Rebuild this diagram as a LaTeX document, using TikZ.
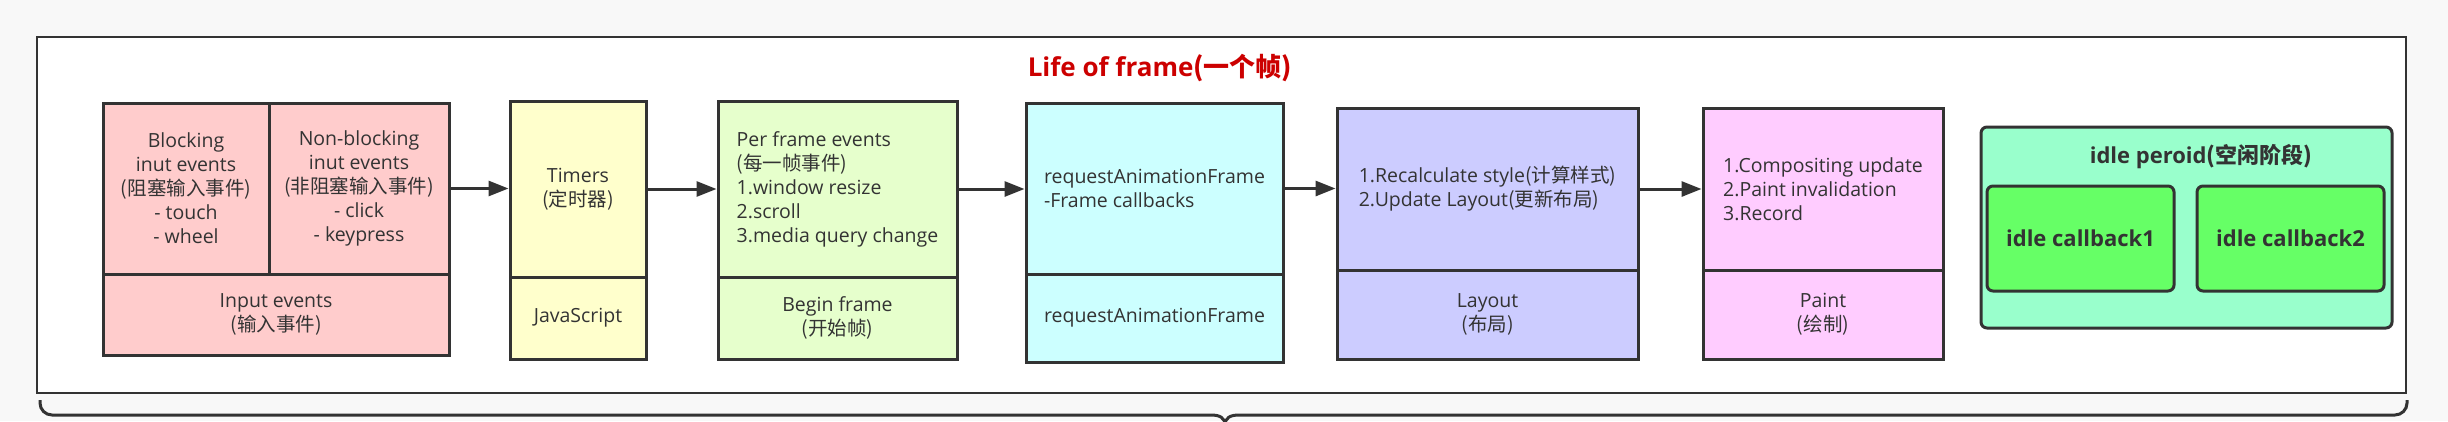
\documentclass[tikz,border=0pt]{standalone}
\usepackage{fontspec}
\setmainfont{Open Sans}
\newfontfamily\cjk{Noto Sans CJK SC}
\usetikzlibrary{arrows.meta}
\definecolor{bd}{HTML}{333333}
\definecolor{txt}{HTML}{333333}
\definecolor{bgc}{HTML}{F8F8F8}
\definecolor{titc}{HTML}{CC0000}
\definecolor{pinkc}{HTML}{FFCCCC}
\definecolor{yelc}{HTML}{FFFFCC}
\definecolor{grnc}{HTML}{E6FFCC}
\definecolor{cyac}{HTML}{CCFFFF}
\definecolor{bluc}{HTML}{CCCCFF}
\definecolor{magc}{HTML}{FFCCFF}
\definecolor{idlec}{HTML}{99FFCC}
\definecolor{cbc}{HTML}{66FF66}
\begin{document}
\begin{tikzpicture}[x=1pt,y=-1pt,
  cell/.style={draw=bd, line width=3pt, inner sep=0pt, text=txt,
    font=\fontsize{19.5}{24}\selectfont, align=center},
  leftcell/.style={cell, align=left},
  bigtitle/.style={inner sep=0pt, text=titc, font=\fontsize{26}{30}\selectfont\bfseries},
  idletitle/.style={inner sep=0pt, text=txt, font=\fontsize{22}{26}\selectfont\bfseries},
  cbbox/.style={draw=bd, line width=3pt, rounded corners=6pt, fill=cbc, inner sep=0pt,
    text=txt, font=\fontsize{22}{26}\selectfont\bfseries, minimum width=187pt, minimum height=105pt},
  arr/.style={draw=bd, line width=3pt, -{Triangle[length=20pt,width=15pt]}},
  bracepath/.style={draw=bd, line width=3pt}]
\useasboundingbox (0,0) rectangle (2448,421);
\fill[bgc] (0,0) rectangle (2448,421);
% outer frame
\node[draw=bd, line width=2.5pt, fill=white, inner sep=0pt, minimum width=2369pt, minimum height=356pt] (frame) at (1221.5,215) {};
% brace
\begin{scope}
\clip (0,0) rectangle (2448,421);
\draw[bracepath] (40,400) -- (40,403) .. controls (40,409.6) and (45.4,415) .. (52,415) -- (1211,415) .. controls (1220,415) and (1225,418) .. (1225,425);
\draw[bracepath] (2407,400) -- (2407,403) .. controls (2407,409.6) and (2401.6,415) .. (2395,415) -- (1239,415) .. controls (1230,415) and (1225,418) .. (1225,425);
\end{scope}
% title
\node[bigtitle] (title) at (1160,68) {Life of frame{\cjk\bfseries (一个帧)}};
% input events
\node[cell, fill=pinkc, minimum width=166pt, minimum height=171pt] (blk) at (186,188.5) {Blocking\\inut events\\{\cjk (阻塞输入事件)}\\- touch\\- wheel};
\node[cell, fill=pinkc, minimum width=180pt, minimum height=171pt] (nblk) at (359,188.5) {Non-blocking\\inut events\\{\cjk (非阻塞输入事件)}\\- click\\- keypress};
\node[cell, fill=pinkc, minimum width=346pt, minimum height=81pt] (inp) at (276,314.5) {Input events\\{\cjk (输入事件)}};
% timers
\node[cell, fill=yelc, minimum width=136pt, minimum height=176pt] (tim) at (578,189) {Timers\\{\cjk (定时器)}};
\node[cell, fill=yelc, minimum width=136pt, minimum height=82pt] (js) at (578,318) {JavaScript};
% begin frame
\node[leftcell, fill=grnc, minimum width=239pt, minimum height=176pt] (pfe) at (837.5,189) {Per frame events\\{\cjk (每一帧事件)}\\1.window resize\\2.scroll\\3.media query change};
\node[cell, fill=grnc, minimum width=239pt, minimum height=82pt] (bf) at (837.5,318) {Begin frame\\{\cjk (开始帧)}};
% rAF
\node[leftcell, fill=cyac, minimum width=257pt, minimum height=171pt] (raf) at (1154.5,188.5) {requestAnimationFrame\\-Frame callbacks};
\node[cell, fill=cyac, minimum width=257pt, minimum height=88pt] (raf2) at (1154.5,318) {requestAnimationFrame};
% layout
\node[leftcell, fill=bluc, minimum width=301pt, minimum height=162pt] (rs) at (1487.5,189) {1.Recalculate style{\cjk (计算样式)}\\2.Update Layout{\cjk (更新布局)}};
\node[cell, fill=bluc, minimum width=301pt, minimum height=89pt] (lay) at (1487.5,314.5) {Layout\\{\cjk (布局)}};
% paint
\node[leftcell, fill=magc, minimum width=240pt, minimum height=162pt] (cu) at (1823,189) {1.Compositing update\\2.Paint invalidation\\3.Record};
\node[cell, fill=magc, minimum width=240pt, minimum height=89pt] (pnt) at (1823,314.5) {Paint\\{\cjk (绘制)}};
% idle
\node[draw=bd, line width=3pt, rounded corners=6pt, fill=idlec, inner sep=0pt, minimum width=411pt, minimum height=201pt] (idle) at (2186.5,227.5) {};
\node[idletitle] (idlet) at (2201,157) {idle peroid{\cjk\bfseries (空闲阶段)}};
\node[cbbox] (cb1) at (2080.5,238.5) {idle callback1};
\node[cbbox] (cb2) at (2290.5,238.5) {idle callback2};
% arrows
\draw[arr] (nblk.east) -- (nblk.east -| tim.west);
\draw[arr] (tim.east) -- (pfe.west);
\draw[arr] (pfe.east) -- (pfe.east -| raf.west);
\draw[arr] (raf.east) -- (raf.east -| rs.west);
\draw[arr] (rs.east) -- (cu.west);
\end{tikzpicture}
\end{document}
